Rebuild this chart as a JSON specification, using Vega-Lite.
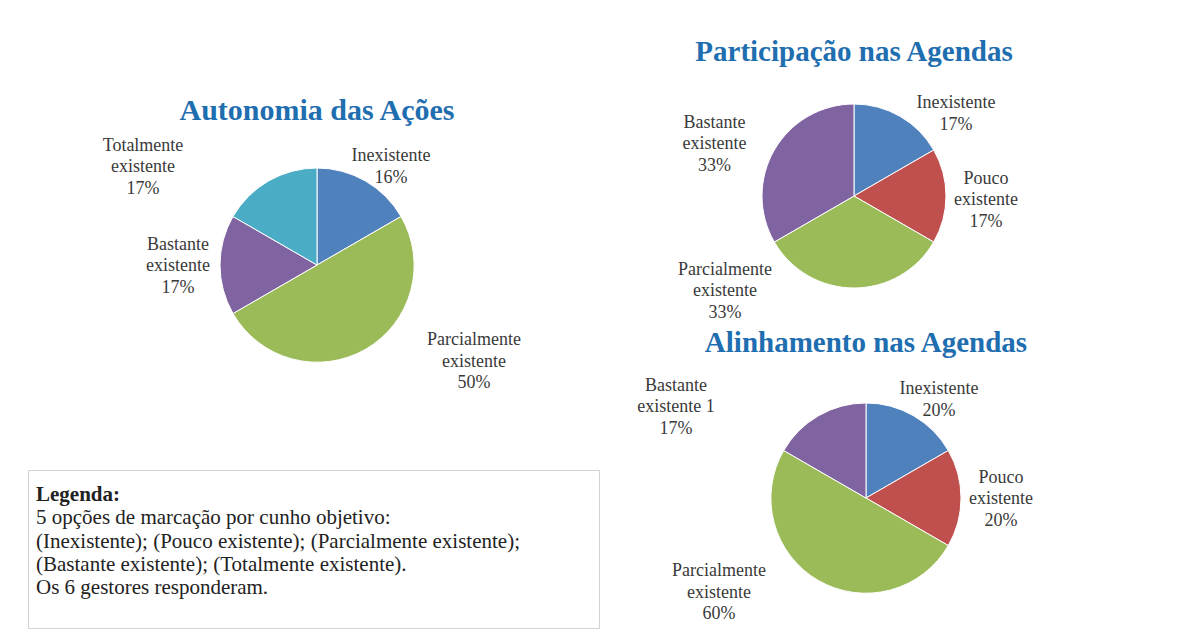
{
  "$schema": "https://vega.github.io/schema/vega-lite/v6.json",
  "background": "white",
  "padding": {"left": 27, "top": 38, "right": 10, "bottom": 8},
  "config": {
    "view": {"stroke": null},
    "title": {"font": "Liberation Serif", "fontSize": 29, "fontWeight": "bold", "color": "#1f6eb0", "anchor": "middle", "baseline": "alphabetic"}
  },
  "datasets": {
    "autonomia": [
      {"categoria": "Inexistente", "respostas": 1, "rotulo": "Inexistente\n16%", "ordem": 1},
      {"categoria": "Parcialmente existente", "respostas": 3, "rotulo": "Parcialmente\nexistente\n50%", "ordem": 3},
      {"categoria": "Bastante existente", "respostas": 1, "rotulo": "Bastante\nexistente\n17%", "ordem": 4},
      {"categoria": "Totalmente existente", "respostas": 1, "rotulo": "Totalmente\nexistente\n17%", "ordem": 5}
    ],
    "participacao": [
      {"categoria": "Inexistente", "respostas": 1, "rotulo": "Inexistente\n17%", "ordem": 1},
      {"categoria": "Pouco existente", "respostas": 1, "rotulo": "Pouco\nexistente\n17%", "ordem": 2},
      {"categoria": "Parcialmente existente", "respostas": 2, "rotulo": "Parcialmente\nexistente\n33%", "ordem": 3},
      {"categoria": "Bastante existente", "respostas": 2, "rotulo": "Bastante\nexistente\n33%", "ordem": 4}
    ],
    "alinhamento": [
      {"categoria": "Inexistente", "respostas": 1, "rotulo": "Inexistente\n20%", "ordem": 1},
      {"categoria": "Pouco existente", "respostas": 1, "rotulo": "Pouco\nexistente\n20%", "ordem": 2},
      {"categoria": "Parcialmente existente", "respostas": 3, "rotulo": "Parcialmente\nexistente\n60%", "ordem": 3},
      {"categoria": "Bastante existente", "respostas": 1, "rotulo": "Bastante\nexistente 1\n17%", "ordem": 4}
    ],
    "legenda": [
      {"linha": 0, "texto": "Legenda:"},
      {"linha": 1, "texto": "5 opções de marcação por cunho objetivo:"},
      {"linha": 2, "texto": "(Inexistente); (Pouco existente); (Parcialmente existente);"},
      {"linha": 3, "texto": "(Bastante existente); (Totalmente existente)."},
      {"linha": 4, "texto": "Os 6 gestores responderam."}
    ]
  },
  "spacing": 10,
  "hconcat": [
    {
      "bounds": "flush",
      "spacing": 21,
      "vconcat": [
        {
          "width": 578,
          "height": 368,
          "data": {"name": "autonomia"},
          "title": {"text": "Autonomia das Ações", "offset": -45, "fontSize": 30},
          "encoding": {
            "theta": {"field": "respostas", "type": "quantitative", "stack": true},
            "order": {"field": "ordem", "type": "quantitative"}
          },
          "layer": [
            {
              "mark": {"type": "arc", "outerRadius": 97, "stroke": "white", "strokeWidth": 1},
              "encoding": {
                "color": {"field": "categoria", "type": "nominal", "legend": null,
                  "scale": {"domain": ["Inexistente", "Pouco existente", "Parcialmente existente", "Bastante existente", "Totalmente existente"],
                            "range": ["#4f81bd", "#c0504d", "#9bbb59", "#8064a2", "#4bacc6"]}}
              }
            },
            {
              "mark": {"type": "text", "radius": 130, "font": "Liberation Serif", "fontSize": 18, "lineBreak": "\n", "lineHeight": 21.5,
                "align": "center", "baseline": "middle", "color": "#3a3a3a",
                "dx": {"expr": "datum.categoria === 'Inexistente' ? 9 : datum.categoria === 'Parcialmente existente' ? 92 : datum.categoria === 'Bastante existente' ? -9 : -109"},
                "dy": {"expr": "datum.categoria === 'Inexistente' ? 4 : datum.categoria === 'Parcialmente existente' ? -37.5 : datum.categoria === 'Bastante existente' ? -20.5 : -6.5"}},
              "encoding": {"text": {"field": "rotulo", "type": "nominal"}}
            }
          ]
        },
        {
          "width": 571,
          "height": 158,
          "view": {"stroke": "#d3d3d3", "strokeWidth": 1},
          "data": {"name": "legenda"},
          "mark": {"type": "text", "align": "left", "baseline": "alphabetic", "font": "Liberation Serif", "fontSize": 21, "color": "#222222",
            "x": 8,
            "fontWeight": {"expr": "datum.linha === 0 ? 'bold' : 'normal'"}},
          "encoding": {
            "y": {"field": "linha", "type": "quantitative", "axis": null,
              "scale": {"domain": [-1.333, 5.462], "reverse": true, "nice": false, "zero": false}},
            "text": {"field": "texto", "type": "nominal"}
          }
        }
      ]
    },
    {
      "bounds": "flush",
      "spacing": 70,
      "vconcat": [
        {
          "width": 476,
          "height": 230,
          "data": {"name": "participacao"},
          "title": {"text": "Participação nas Agendas", "offset": 14},
          "encoding": {
            "theta": {"field": "respostas", "type": "quantitative", "stack": true},
            "order": {"field": "ordem", "type": "quantitative"}
          },
          "layer": [
            {
              "mark": {"type": "arc", "outerRadius": 92, "stroke": "white", "strokeWidth": 1},
              "encoding": {
                "color": {"field": "categoria", "type": "nominal", "legend": null,
                  "scale": {"domain": ["Inexistente", "Pouco existente", "Parcialmente existente", "Bastante existente", "Totalmente existente"],
                            "range": ["#4f81bd", "#c0504d", "#9bbb59", "#8064a2", "#4bacc6"]}}
              }
            },
            {
              "mark": {"type": "text", "radius": 130, "font": "Liberation Serif", "fontSize": 18, "lineBreak": "\n", "lineHeight": 21.5,
                "align": "center", "baseline": "middle", "color": "#3a3a3a",
                "dx": {"expr": "datum.categoria === 'Inexistente' ? 37 : datum.categoria === 'Pouco existente' ? 2 : datum.categoria === 'Parcialmente existente' ? -129 : -27"},
                "dy": {"expr": "datum.categoria === 'Inexistente' ? 20 : datum.categoria === 'Pouco existente' ? -17.5 : datum.categoria === 'Parcialmente existente' ? -56.5 : -8.5"}},
              "encoding": {"text": {"field": "rotulo", "type": "nominal"}}
            }
          ]
        },
        {
          "width": 500,
          "height": 234,
          "data": {"name": "alinhamento"},
          "title": {"text": "Alinhamento nas Agendas", "offset": 19},
          "encoding": {
            "theta": {"field": "respostas", "type": "quantitative", "stack": true},
            "order": {"field": "ordem", "type": "quantitative"}
          },
          "layer": [
            {
              "mark": {"type": "arc", "outerRadius": 95, "stroke": "white", "strokeWidth": 1},
              "encoding": {
                "color": {"field": "categoria", "type": "nominal", "legend": null,
                  "scale": {"domain": ["Inexistente", "Pouco existente", "Parcialmente existente", "Bastante existente", "Totalmente existente"],
                            "range": ["#4f81bd", "#c0504d", "#9bbb59", "#8064a2", "#4bacc6"]}}
              }
            },
            {
              "mark": {"type": "text", "radius": 130, "font": "Liberation Serif", "fontSize": 18, "lineBreak": "\n", "lineHeight": 21.5,
                "align": "center", "baseline": "middle", "color": "#3a3a3a",
                "dx": {"expr": "datum.categoria === 'Inexistente' ? 8 : datum.categoria === 'Pouco existente' ? 5 : datum.categoria === 'Parcialmente existente' ? -82 : -125"},
                "dy": {"expr": "datum.categoria === 'Inexistente' ? 4 : datum.categoria === 'Pouco existente' ? -20.5 : datum.categoria === 'Parcialmente existente' ? -39.5 : 0.5"}},
              "encoding": {"text": {"field": "rotulo", "type": "nominal"}}
            }
          ]
        }
      ]
    }
  ]
}
